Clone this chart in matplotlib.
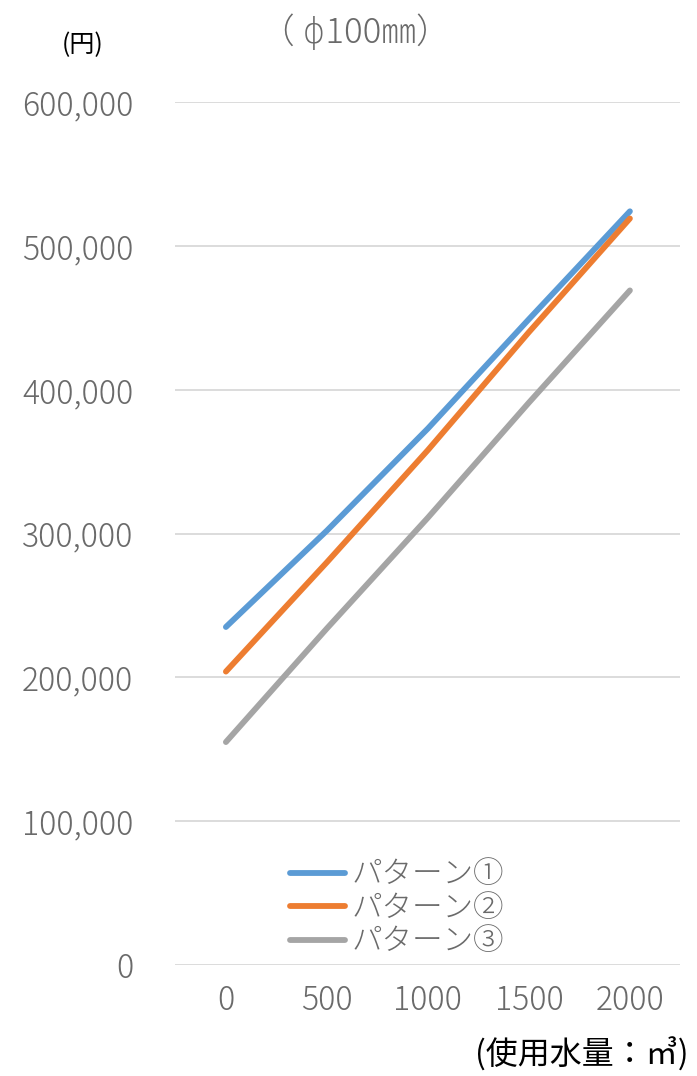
import matplotlib
matplotlib.use("Agg")
import matplotlib.pyplot as plt
from matplotlib.ticker import FuncFormatter

plt.rcParams['font.family'] = ['Noto Sans CJK JP', 'DejaVu Sans']

# Usage volume (m3) and charge per pattern (yen)
usage = [0, 500, 1000, 1500, 2000]
pattern1 = [235000, 302000, 373000, 449000, 524000]
pattern2 = [204000, 280000, 358000, 440000, 519000]
pattern3 = [155000, 234000, 311000, 391000, 469000]
labels = ['パターン①', 'パターン②', 'パターン③']
colors = ['#5B9BD5', '#ED7D31', '#A5A5A5']
x_ticks = [0, 500, 1000, 1500, 2000]
y_ticks = [0, 100000, 200000, 300000, 400000, 500000, 600000]

fig = plt.figure(figsize=(6.97, 10.76), dpi=100)
ax = fig.add_axes([175 / 697, 1 - 965 / 1076, 505 / 697, 863 / 1076])

for series, lab, col in zip([pattern1, pattern2, pattern3], labels, colors):
    ax.plot(usage, series, color=col, lw=4.2, solid_capstyle='round', label=lab)

ax.set_xlim(-252, 2248)
ax.set_ylim(0, 600000)
ax.set_xticks(x_ticks)
ax.set_yticks(y_ticks)
ax.yaxis.set_major_formatter(FuncFormatter(lambda v, p: f"{int(v):,}"))
ax.grid(axis='y', color='#D9D9D9', lw=1.3)
ax.set_axisbelow(True)
for s in ax.spines.values():
    s.set_visible(False)
ax.tick_params(length=0, labelsize=23, colors='#6A6A6A')
ax.tick_params(axis='x', pad=13)
ax.tick_params(axis='y', pad=30)
for t in ax.get_yticklabels():
    t.set_horizontalalignment('right')
    t.set_fontweight('light')
for t in ax.get_xticklabels():
    t.set_fontweight('light')

leg = ax.legend(loc='upper left', bbox_to_anchor=(100 / 505, (965 - 843) / 863),
                frameon=False, prop={'size': 22, 'weight': 'light'},
                handlelength=1.8, handletextpad=0.2, labelspacing=0.05,
                borderpad=0)
for t in leg.get_texts():
    t.set_color('#6A6A6A')

fig.text(355 / 697, 1 - 33 / 1076, '（ ϕ100㎜）', ha='center', va='center',
         fontsize=25, color='#6A6A6A', fontweight='light')
fig.text(83 / 697, 1 - 45 / 1076, '(円)', ha='center', va='center',
         fontsize=18, color='#000000')
fig.text(582 / 697, 1 - 1055 / 1076, '(使用水量：㎥)', ha='center', va='center',
         fontsize=23, color='#000000')

fig.savefig('out.png', dpi=100, facecolor='white')
